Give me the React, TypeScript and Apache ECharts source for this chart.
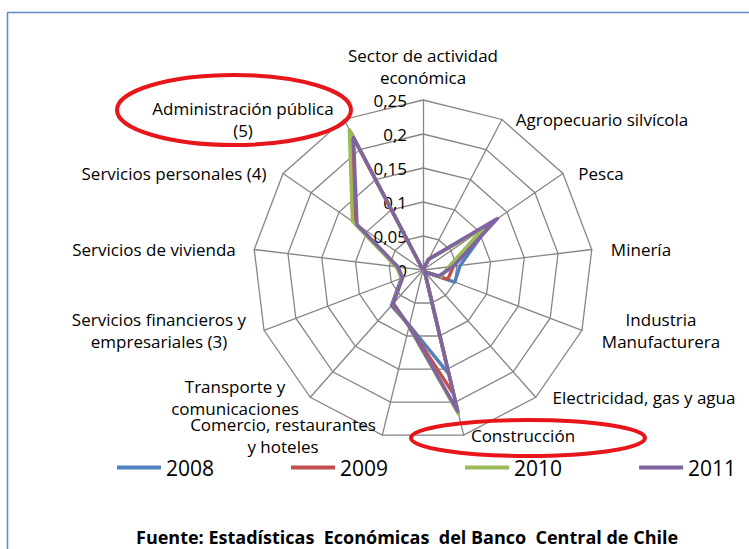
import React, { useEffect, useRef } from 'react';
import * as echarts from 'echarts';

// ---------- data ----------
const categories = [
  'Sector de actividad\neconómica',
  'Agropecuario silvícola',
  'Pesca',
  'Minería',
  'Industria\nManufacturera',
  'Electricidad, gas y agua',
  'Construcción',
  'Comercio, restaurantes\ny hoteles',
  'Transporte y\ncomunicaciones',
  'Servicios financieros y\nempresariales (3)',
  'Servicios de vivienda',
  'Servicios personales (4)',
  'Administración pública\n(5)',
];
const years = ['2008', '2009', '2010', '2011'];
const values2008 = [0, 0.018, 0.12, 0.055, 0.05, 0.004, 0.157, 0.084, 0.07, 0.034, 0.038, 0.122, 0.226];
const values2009 = [0, 0.018, 0.115, 0.045, 0.039, 0.004, 0.188, 0.085, 0.068, 0.033, 0.038, 0.122, 0.229];
const values2010 = [0, 0.018, 0.108, 0.038, 0.028, 0.004, 0.218, 0.086, 0.066, 0.033, 0.04, 0.126, 0.233];
const values2011 = [0, 0.018, 0.133, 0.045, 0.025, 0.004, 0.214, 0.085, 0.066, 0.032, 0.037, 0.118, 0.22];
const tickLabels = ['0', '0,05', '0,1', '0,15', '0,2', '0,25'];
const axisMax = 0.25;
const axisStep = 0.05;
const sourceText = 'Fuente: Estadísticas  Económicas  del Banco  Central de Chile';

// ---------- layout / style ----------
const CX = 423;
const CY = 270;
const R = 170;
const seriesColors = ['#4F81BD', '#C0504D', '#9BBB59', '#8064A2'];
// label block centres (clockwise order, same as categories)
const labelCenters: [number, number][] = [
  [425, 66], [602, 119], [601, 173], [641, 251], [661, 334], [644, 402], [523, 439],
  [283, 456], [235, 396], [159, 334], [154, 251], [174, 173], [243, 118],
];
const FONT = 'Open Sans';

export default function App() {
  const ref = useRef<HTMLDivElement>(null);
  useEffect(() => {
    if (!ref.current) return;
    const chart = echarts.init(ref.current, undefined, { renderer: 'svg' });
    const n = categories.length;
    // ECharts radar goes counter-clockwise; the reference goes clockwise
    const order = Array.from({ length: n }, (_, k) => (n - k) % n);
    const allValues = [values2008, values2009, values2010, values2011];

    const indicator = order.map((i) => {
      const th = (i * 2 * Math.PI) / n;
      const vx = CX + R * Math.sin(th);
      const vy = CY - R * Math.cos(th);
      const [lx, ly] = labelCenters[i];
      const ox = lx - vx;
      const oy = ly - vy;
      const ind: any = {
        name: categories[i],
        min: 0,
        max: axisMax,
        nameMoveOverlap: false,
        nameTextStyle: {
          align: 'center',
          verticalAlign: 'middle',
          padding: [Math.max(0, 2 * oy), Math.max(0, -2 * ox), Math.max(0, -2 * oy), Math.max(0, 2 * ox)],
        },
      };
      if (i === 0) {
        ind.nameTextStyle = { align: 'center', verticalAlign: 'bottom', padding: [0, 0, Math.max(0, vy - (ly + 22)), 0] };
        ind.axisLabel = {
          show: true,
          margin: 16,
          color: '#000',
          fontSize: 17,
          fontFamily: FONT,
          formatter: (v: number) => tickLabels[Math.round(v / axisStep)] ?? '',
        };
      }
      return ind;
    });

    chart.setOption({
      animation: false,
      backgroundColor: '#fff',
      title: {
        text: sourceText,
        left: 131,
        top: 523,
        textStyle: { fontFamily: FONT, fontSize: 18, fontWeight: 'bold', color: '#000' },
      },
      legend: {
        data: years,
        left: 112,
        top: 452,
        icon: 'rect',
        itemWidth: 44,
        itemHeight: 4,
        itemGap: 77,
        textStyle: { fontFamily: FONT, fontSize: 21, color: '#000' },
      },
      radar: {
        center: [CX, CY],
        radius: R,
        startAngle: 90,
        shape: 'polygon',
        splitNumber: Math.round(axisMax / axisStep),
        nameGap: 0,
        axisName: { color: '#000', fontSize: 17, fontFamily: FONT, lineHeight: 22 },
        axisLine: { lineStyle: { color: '#868686', width: 1.3 } },
        splitLine: { lineStyle: { color: '#868686', width: 1.3 } },
        splitArea: { show: false },
        axisTick: { show: false },
        axisLabel: { show: false },
        indicator,
      },
      series: [
        {
          type: 'radar',
          symbol: 'none',
          data: years.map((y, s) => ({
            name: y,
            value: order.map((i) => allValues[s][i]),
            lineStyle: { color: seriesColors[s], width: 3.5 },
            itemStyle: { color: seriesColors[s] },
          })),
        },
      ],
      graphic: [
        {
          type: 'rect',
          z: 100,
          shape: { x: 7.5, y: 12.5, width: 800, height: 600 },
          style: { fill: 'none', stroke: '#5B8BC9', lineWidth: 1.5 },
        },
        {
          type: 'ellipse',
          z: 100,
          shape: { cx: 234, cy: 110, rx: 117, ry: 35 },
          style: { fill: 'none', stroke: '#E8161B', lineWidth: 4 },
        },
        {
          type: 'ellipse',
          z: 100,
          shape: { cx: 528, cy: 438, rx: 117, ry: 18 },
          style: { fill: 'none', stroke: '#E8161B', lineWidth: 4 },
        },
      ],
    });
    return () => chart.dispose();
  }, []);
  return <div ref={ref} style={{ position: 'fixed', left: 0, top: 0, width: 749, height: 549 }} />;
}
